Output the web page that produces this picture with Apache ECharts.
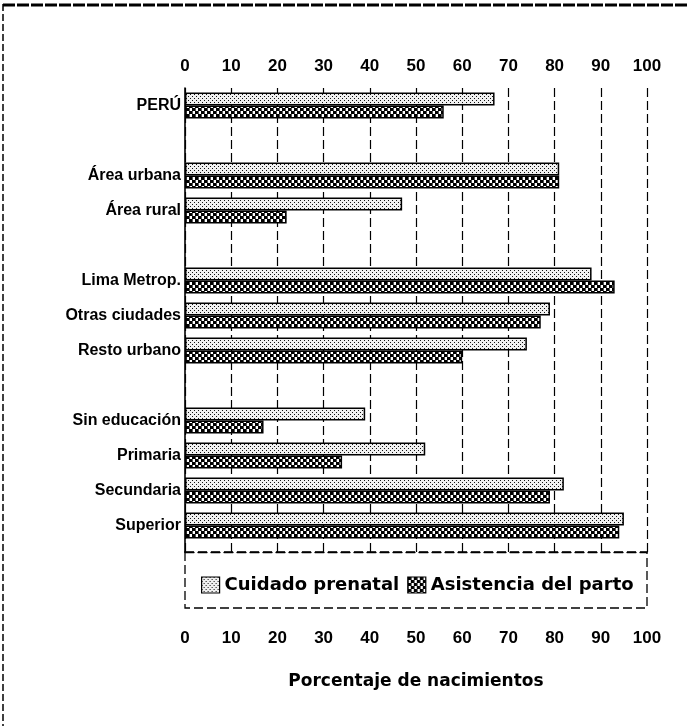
<!DOCTYPE html>
<html>
<head>
<meta charset="utf-8">
<script src="https://cdn.jsdelivr.net/npm/echarts@6/dist/echarts.min.js"></script>
<style>
html,body{margin:0;padding:0;background:#fff;}
#chart{width:689px;height:726px;}
</style>
</head>
<body>
<div id="chart"></div>
<script>
// ---- data ----
const categories = ['PERÚ', ' ', 'Área urbana', 'Área rural', '  ', 'Lima Metrop.', 'Otras ciudades', 'Resto urbano', '   ', 'Sin educación', 'Primaria', 'Secundaria', 'Superior'];
const prenatal   = [67, null, 81, 47, null, 88, 79, 74, null, 39, 52, 82, 95];
const asistencia = [56, null, 81, 22, null, 93, 77, 60, null, 17, 34, 79, 94];
const seriesNames = ['Cuidado prenatal', 'Asistencia del parto'];
const tickValues = [0, 10, 20, 30, 40, 50, 60, 70, 80, 90, 100];
const axisTitle = 'Porcentaje de nacimientos';

// ---- patterns ----
function makeTile(size, draw) {
  const c = document.createElement('canvas');
  c.width = size; c.height = size;
  const g = c.getContext('2d');
  draw(g);
  return c;
}
const dotTile = makeTile(4, g => {
  g.fillStyle = '#f0f0f0'; g.fillRect(0, 0, 4, 4);
  g.fillStyle = '#111'; g.fillRect(0, 0, 1, 1); g.fillRect(2, 2, 1, 1);
});
const checkTile = makeTile(6, g => {
  g.fillStyle = '#fff'; g.fillRect(0, 0, 6, 6);
  g.fillStyle = '#000'; g.fillRect(0, 0, 3, 3); g.fillRect(3, 3, 3, 3);
  g.fillStyle = '#555'; g.fillRect(3, 0, 1, 3); g.fillRect(0, 3, 1, 3);
});
const prenatalFill = { image: dotTile, repeat: 'repeat' };
const asistFill = { image: checkTile, repeat: 'repeat' };

const chart = echarts.init(document.getElementById('chart'), null, { renderer: 'canvas' });

const tickFont = { fontFamily: '"Liberation Sans", Arial, sans-serif', fontWeight: 'bold', fontSize: 17, color: '#000' };
const L = 185, R = 42;

const option = {
  backgroundColor: '#fff',
  animation: false,
  grid: [
    { left: L, right: R, top: 88, height: 455 },
    { left: L, right: R, top: 88, height: 464 }
  ],
  xAxis: [
    { gridIndex: 0, type: 'value', min: 0, max: 100, interval: 10, show: false },
    {
      gridIndex: 1, type: 'value', position: 'top', min: 0, max: 100, interval: 10,
      axisLine: { show: true, lineStyle: { color: '#000', width: 1.3, type: [9, 4] } },
      axisTick: { show: false },
      axisLabel: Object.assign({ margin: 13, formatter: v => tickValues.includes(v) ? String(v) : '' }, tickFont),
      splitLine: { show: true, lineStyle: { color: '#000', width: 1.2, type: [9, 4] } }
    },
    {
      gridIndex: 1, type: 'value', position: 'bottom', min: 0, max: 100, interval: 10, offset: 70,
      axisLine: { show: false }, axisTick: { show: false },
      axisLabel: Object.assign({ margin: 8, formatter: v => tickValues.includes(v) ? String(v) : '' }, tickFont),
      splitLine: { show: false },
      name: axisTitle, nameLocation: 'middle', nameGap: 51,
      nameTextStyle: { fontFamily: '"DejaVu Sans", sans-serif', fontWeight: 'bold', fontSize: 17, color: '#000' }
    }
  ],
  yAxis: [
    {
      gridIndex: 0, type: 'category', data: categories, inverse: true,
      axisLine: { show: false }, axisTick: { show: false },
      axisLabel: { margin: 4, fontFamily: '"Liberation Sans", Arial, sans-serif', fontWeight: 'bold', fontSize: 16, color: '#000' }
    },
    {
      gridIndex: 1, type: 'value', min: 0, max: 1,
      axisLine: { show: true, onZero: false, lineStyle: { color: '#000', width: 1.6 } },
      axisTick: { show: false }, axisLabel: { show: false }, splitLine: { show: false }
    }
  ],
  legend: {
    left: 196, top: 571,
    itemWidth: 18, itemHeight: 16, itemGap: 8,
    icon: 'rect',
    textStyle: { fontFamily: '"DejaVu Sans", sans-serif', fontWeight: 'bold', fontSize: 18, color: '#000' },
    itemStyle: { borderColor: '#000', borderWidth: 1.2 },
    data: seriesNames
  },
  series: [
    {
      name: seriesNames[0], type: 'bar', xAxisIndex: 0, yAxisIndex: 0,
      data: prenatal, barWidth: 13, barGap: '0%',
      itemStyle: { color: prenatalFill, borderColor: '#000', borderWidth: 1.5 }
    },
    {
      name: seriesNames[1], type: 'bar', xAxisIndex: 0, yAxisIndex: 0,
      data: asistencia, barWidth: 13, barGap: '0%',
      itemStyle: { color: asistFill, borderColor: '#000', borderWidth: 1.5 }
    }
  ],
  graphic: [
    { type: 'line', silent: true, shape: { x1: 3, y1: 5, x2: 689, y2: 5 }, style: { stroke: '#000', lineWidth: 3, lineDash: [12, 2] } },
    { type: 'line', silent: true, shape: { x1: 3, y1: 4, x2: 3, y2: 726 }, style: { stroke: '#000', lineWidth: 1.5, lineDash: [7, 3] } },
    { type: 'rect', silent: true, shape: { x: L, y: 552, width: 462, height: 56 }, style: { fill: 'none', stroke: '#000', lineWidth: 1.3, lineDash: [9, 4] } }
  ]
};
chart.setOption(option);
</script>
</body>
</html>
